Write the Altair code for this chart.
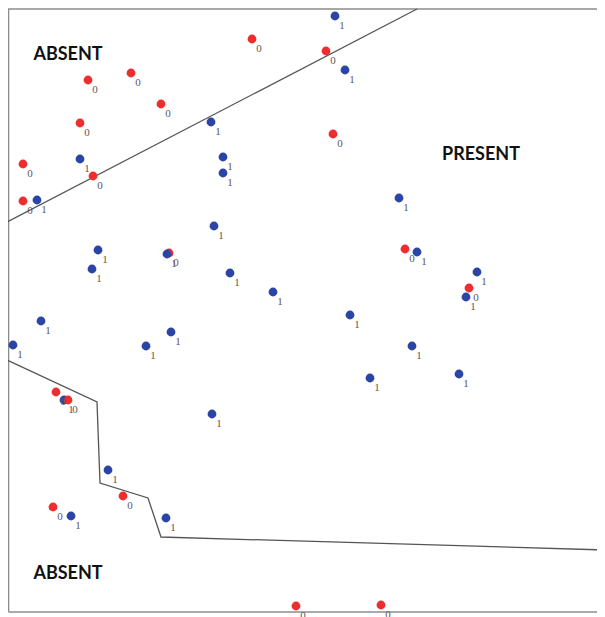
import altair as alt
import pandas as pd

# Observed points (class 0 = absent, red; class 1 = present, blue)
red_x = [245, 81, 124, 154, 73, 86, 16, 16, 319, 326, 162, 398, 462, 49, 61, 116, 46, 289, 374]
red_y = [573, 532, 539, 508, 489, 436, 448, 411, 561, 478, 359, 363, 324, 220, 212, 116, 105, 6, 7]

blue_x = [328, 204, 73, 216, 216, 30, 338, 392, 207, 91, 160, 85, 223, 266, 34, 6, 164, 139,
          57, 205, 410, 470, 459, 343, 405, 363, 452, 101, 64, 159]
blue_y = [596, 490, 453, 455, 439, 412, 542, 414, 386, 362, 358, 343, 339, 320, 291, 267, 280, 266,
          212, 198, 360, 340, 315, 297, 266, 234, 238, 142, 96, 94]

# Decision boundaries
upper_x = [0, 410]
upper_y = [390, 603]
lower_x = [0, 90, 93, 141, 154, 598]
lower_y = [252, 210, 129, 114, 75, 62]

# Region labels
region_text = ["ABSENT", "PRESENT", "ABSENT"]
region_x = [61, 474, 61]
region_y = [559, 459, 40]

# Frame (left, top, bottom edges)
frame_x = [1.5, 1.5, 598]
frame_y = [0, 603, 603]
frame_bx = [1.5, 598]
frame_by = [0, 0]

rows = []
for i, (x, y) in enumerate(zip(red_x, red_y)):
    rows.append({"x": x, "y": y, "cls": "0", "ord": i})
for i, (x, y) in enumerate(zip(blue_x, blue_y)):
    rows.append({"x": x, "y": y, "cls": "1", "ord": 100 + i})
pts = pd.DataFrame(rows)
pts.loc[(pts.cls == "0") & (pts.x == 61) & (pts.y == 212), "ord"] = 500

lines = pd.DataFrame(
    [{"x": x, "y": y, "seg": "upper", "k": k} for k, (x, y) in enumerate(zip(upper_x, upper_y))]
    + [{"x": x, "y": y, "seg": "lower", "k": k} for k, (x, y) in enumerate(zip(lower_x, lower_y))]
)
frame = pd.DataFrame(
    [{"x": x, "y": y, "seg": "f1", "k": k} for k, (x, y) in enumerate(zip(frame_x, frame_y))]
    + [{"x": x, "y": y, "seg": "f2", "k": k} for k, (x, y) in enumerate(zip(frame_bx, frame_by))]
)
regions = pd.DataFrame({"t": region_text, "x": region_x, "y": region_y})

xs = alt.Scale(domain=[1, 590], nice=False, zero=False)
ys = alt.Scale(domain=[-5, 604], nice=False, zero=False)
X = lambda: alt.X("x:Q", scale=xs, axis=None)
Y = lambda: alt.Y("y:Q", scale=ys, axis=None)

frame_layer = alt.Chart(frame).mark_line(color="#8c8c8c", strokeWidth=1.6).encode(
    x=X(), y=Y(), detail="seg:N", order="k:Q"
)
bound_layer = alt.Chart(lines).mark_line(color="#555555", strokeWidth=1.3).encode(
    x=X(), y=Y(), detail="seg:N", order="k:Q"
)
pt_layer = alt.Chart(pts).mark_circle(size=78, opacity=1).encode(
    x=X(), y=Y(),
    color=alt.Color("cls:N", scale=alt.Scale(domain=["0", "1"], range=["#ee2e2e", "#2a45a6"]), legend=None),
    order="ord:Q",
)
lab_layer = alt.Chart(pts).mark_text(
    font="Liberation Serif", fontSize=11, color="#5a5a5a", dx=7, dy=10, align="center", baseline="middle"
).encode(x=X(), y=Y(), text="cls:N")
reg_layer = alt.Chart(regions).mark_text(
    font="Lato", fontWeight="bold", fontSize=18, color="#111111", align="center", baseline="middle", dy=2
).encode(x=X(), y=Y(), text="t:N")

chart = alt.layer(frame_layer, bound_layer, pt_layer, lab_layer, reg_layer).properties(
    width=589, height=609, padding=0, autosize=alt.AutoSizeParams(type="none")
).configure_view(stroke=None)

chart.save("out.html", embed_options={"renderer": "svg", "actions": False})
